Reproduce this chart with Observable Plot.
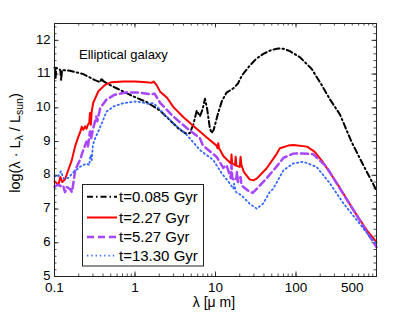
<!DOCTYPE html>
<html>
<head>
<meta charset="utf-8">
<script src="https://cdn.jsdelivr.net/npm/d3@7"></script>
<script src="https://cdn.jsdelivr.net/npm/@observablehq/plot@0.6"></script>
<style>
  html, body { margin: 0; padding: 0; background: white; }
</style>
</head>
<body>
<div id="chart"></div>
<script>
// ---- data (λ in μm, log(λ·Lλ/Lsun)) ----
const seriesNames = ["t=0.085 Gyr", "t=2.27 Gyr", "t=5.27 Gyr", "t=13.30 Gyr"];

const lam085 = [0.1,0.101,0.103,0.105,0.112,0.118,0.121,0.124,0.156,0.228,0.318,0.37,0.385,0.40,0.45,0.59,0.95,1.4,2.04,2.86,3.5,4.2,4.8,5.3,5.85,6.4,6.9,7.4,7.9,8.5,8.95,9.5,10.8,12,13.7,16.7,19,21.2,26.8,32,39.3,50,60.3,70,84,112,157,208,264,352,406,492,686,906,1000];
const val085 = [11.2,11.18,10.85,11.18,11.16,11.12,10.82,11.12,11.1,11.0,10.82,10.76,10.88,10.8,10.72,10.58,10.34,10.17,9.92,9.58,9.38,9.25,9.25,9.5,9.92,9.75,9.95,10.27,9.95,9.4,9.25,9.35,9.85,10.2,10.45,10.58,10.72,10.95,11.26,11.45,11.6,11.72,11.76,11.75,11.68,11.5,11.15,10.68,10.25,9.8,9.45,8.98,8.3,7.75,7.55];

const lam227 = [0.1,0.105,0.112,0.118,0.125,0.135,0.148,0.164,0.18,0.198,0.21,0.218,0.228,0.24,0.25,0.26,0.27,0.276,0.283,0.29,0.303,0.35,0.424,0.51,0.72,1.0,1.4,1.6,1.7,1.85,2.05,2.5,3.0,4.0,5.6,7.8,10.3,10.6,10.8,11.1,12.5,15.1,15.6,15.8,16.1,17.5,17.8,18.2,20,20.5,21,22.5,26.5,29.5,32.5,43,57,63,80,93,137,170,217,320,520,760,1000];
const val227 = [7.82,7.78,7.72,7.95,7.8,7.88,8.15,8.45,8.85,9.15,9.3,9.44,9.35,9.45,9.38,9.5,9.55,9.85,9.5,9.9,10.15,10.49,10.68,10.76,10.78,10.78,10.76,10.74,10.78,10.68,10.48,10.3,10.02,9.72,9.42,9.12,8.88,8.8,8.95,8.8,8.57,8.38,8.35,8.62,8.35,8.3,8.55,8.28,8.25,8.55,8.3,8.1,7.88,7.85,7.9,8.2,8.62,8.8,8.88,8.9,8.85,8.7,8.38,7.78,6.96,6.37,6.02];

const lam527 = [0.1,0.11,0.12,0.128,0.135,0.142,0.155,0.165,0.175,0.18,0.207,0.228,0.25,0.26,0.276,0.285,0.303,0.33,0.34,0.37,0.44,0.56,0.79,1.15,1.6,1.75,2.05,3.0,4.4,6.4,7,10.3,12.5,13.7,15.5,15.8,16.2,18,18.5,19,20.5,21,22,26.5,29,32,43,57,70,92,101,163,240,350,520,760,1000];
const val527 = [7.66,7.72,7.68,7.7,7.5,7.65,7.6,7.5,7.9,8.15,8.45,8.75,9.0,8.85,9.3,9.1,9.4,9.74,9.6,9.99,10.24,10.39,10.46,10.45,10.4,10.42,10.15,9.74,9.4,9.1,8.88,8.55,8.22,8.3,7.92,8.3,7.9,7.85,8.1,7.8,7.95,7.72,7.66,7.51,7.48,7.58,7.91,8.25,8.52,8.64,8.65,8.63,8.25,7.61,6.96,6.32,5.87];

const lam1330 = [0.1,0.11,0.12,0.13,0.148,0.17,0.207,0.25,0.27,0.28,0.29,0.3,0.32,0.35,0.4,0.44,0.54,0.72,1.05,1.46,1.7,2.05,3.0,4.4,6.4,9.4,12,14.5,16.7,17,18,21,26.5,32.5,39,47,52,70,92,124,180,264,390,570,830,1000];
const val1330 = [7.98,7.95,8.12,7.9,7.92,8.08,8.25,8.35,8.3,8.6,8.45,8.9,9.1,9.3,9.62,9.88,10.04,10.14,10.19,10.12,10.14,9.94,9.54,9.2,8.75,8.45,8.05,7.81,7.6,7.75,7.5,7.41,7.16,7.01,7.16,7.5,7.6,8.15,8.35,8.4,8.25,7.76,7.16,6.67,6.17,5.97];

const xTickValues = [0.1, 1, 10, 100, 500];
const yTickValues = [5, 6, 7, 8, 9, 10, 11, 12];

// ---- derived tables ----
const toRows = (lams, vals) => lams.map((l, i) => ({lam: l, v: vals[i]}));
const rows085 = toRows(lam085, val085);
const rows227 = toRows(lam227, val227);
const rows527 = toRows(lam527, val527);
const rows1330 = toRows(lam1330, val1330);

const xMinor = [];
for (const dec of [0.1, 1, 10, 100]) for (let k = 1; k <= 9; k++) xMinor.push(+(dec * k).toPrecision(3));
xMinor.push(1000);
const xMajor = [0.1, 1, 10, 100, 1000];
const yMinor = d3.range(50, 126, 2).map(d => d / 10);

const W = 415, H = 313, mL = 54, mR = 39, mT = 23, mB = 37;
const innerH = H - mT - mB, innerW = W - mL - mR;
const majLen = 4.5, minLen = 2.5;
const font = "'Liberation Sans', Arial, Helvetica, sans-serif";

const styles = [
  {stroke: "#000000", strokeWidth: 2, dash: "6,3,1.5,3"},
  {stroke: "#ff0000", strokeWidth: 2, dash: null},
  {stroke: "#a845ff", strokeWidth: 2.5, dash: "7,4"},
  {stroke: "#3366ff", strokeWidth: 1.8, dash: "1.3,3"}
];
const allRows = [rows085, rows227, rows527, rows1330];

const lineMarks = allRows.map((rows, i) => Plot.line(rows, {
  x: "lam", y: "v",
  stroke: styles[i].stroke, strokeWidth: styles[i].strokeWidth,
  strokeDasharray: styles[i].dash, strokeLinejoin: "round"
}));

const plot = Plot.plot({
  width: W, height: H,
  marginLeft: mL, marginRight: mR, marginTop: mT, marginBottom: mB,
  style: {fontFamily: font, fontSize: "13px", background: "white", color: "black", overflow: "visible"},
  x: {type: "log", domain: [0.1, 1000], axis: null},
  y: {domain: [5, 12.5], axis: null},
  marks: [
    // tick labels
    Plot.text(xTickValues, {x: d => d, frameAnchor: "bottom", dy: 6, lineAnchor: "top", text: d => String(d), fontSize: 13.5, fill: "black"}),
    Plot.text(yTickValues, {y: d => d, frameAnchor: "left", dx: -4, dy: -1, textAnchor: "end", text: d => String(d), fontSize: 13, fill: "black"}),
    // inward ticks (bottom/top)
    Plot.tickX(xMinor, {x: d => d, insetTop: innerH - minLen, stroke: "#222", strokeWidth: 0.8}),
    Plot.tickX(xMinor, {x: d => d, insetBottom: innerH - minLen, stroke: "#222", strokeWidth: 0.8}),
    Plot.tickX(xMajor, {x: d => d, insetTop: innerH - majLen, stroke: "#222", strokeWidth: 0.9}),
    Plot.tickX(xMajor, {x: d => d, insetBottom: innerH - majLen, stroke: "#222", strokeWidth: 0.9}),
    // inward ticks (left/right)
    Plot.tickY(yMinor, {y: d => d, insetRight: innerW - minLen, stroke: "#222", strokeWidth: 0.8}),
    Plot.tickY(yMinor, {y: d => d, insetLeft: innerW - minLen, stroke: "#222", strokeWidth: 0.8}),
    Plot.tickY(yTickValues, {y: d => d, insetRight: innerW - majLen, stroke: "#222", strokeWidth: 0.9}),
    Plot.tickY(yTickValues, {y: d => d, insetLeft: innerW - majLen, stroke: "#222", strokeWidth: 0.9}),
    ...lineMarks,
    Plot.text(["Elliptical galaxy"], {frameAnchor: "top-left", dx: 24.5, dy: 35.5, textAnchor: "start", lineAnchor: "bottom", fontSize: 13, fill: "black"}),
    Plot.frame({stroke: "#222", strokeWidth: 1})
  ]
});

const svg = d3.select(plot);

// y-axis label with subscripts
const yl = svg.append("text")
  .attr("transform", "translate(19.5,143) rotate(-90)")
  .attr("text-anchor", "middle")
  .attr("font-family", font)
  .attr("font-size", 14.5)
  .attr("fill", "black");
yl.append("tspan").text("log(λ · L");
yl.append("tspan").attr("dy", 3).attr("font-size", 10.5).text("λ");
yl.append("tspan").attr("dy", -3).text(" / L");
yl.append("tspan").attr("dy", 3).attr("font-size", 10.5).text("sun");
yl.append("tspan").attr("dy", -3).text(")");

// x-axis label
svg.append("text")
  .attr("x", 214).attr("y", 306.5)
  .attr("text-anchor", "middle")
  .attr("font-family", font)
  .attr("font-size", 14)
  .attr("fill", "black")
  .text("λ [μ m]");

// legend
const lg = svg.append("g");
const bx = 82.5, by = 184.5, bw = 121, bh = 81.5;
lg.append("rect").attr("x", bx).attr("y", by).attr("width", bw).attr("height", bh)
  .attr("fill", "white").attr("stroke", "#222").attr("stroke-width", 1);
const rowY = [196.7, 217.5, 237, 255.7];
seriesNames.forEach((name, i) => {
  const s = styles[i];
  lg.append("line").attr("x1", 87).attr("x2", 117).attr("y1", rowY[i]).attr("y2", rowY[i])
    .attr("stroke", s.stroke).attr("stroke-width", s.strokeWidth)
    .attr("stroke-dasharray", s.dash);
  lg.append("text").attr("x", 119).attr("y", rowY[i]).attr("dy", "0.36em")
    .attr("text-anchor", "start")
    .attr("font-family", font).attr("font-size", 15).attr("fill", "black")
    .text(name);
});

document.getElementById("chart").appendChild(plot);
</script>
</body>
</html>
